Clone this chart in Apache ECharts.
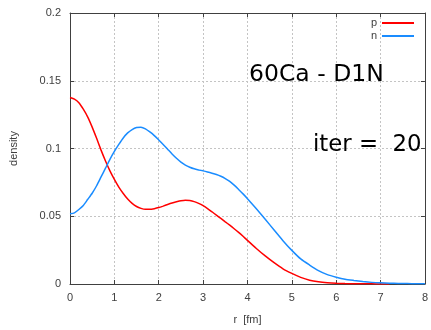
<!DOCTYPE html>
<html>
<head>
<meta charset="utf-8">
<script src="https://cdn.jsdelivr.net/npm/echarts@6/dist/echarts.min.js"></script>
<style>html,body{margin:0;padding:0;background:#fff}#c{width:431px;height:330px}</style>
</head>
<body>
<div id="c"></div>
<script>
var rValues = [0,0.1,0.2,0.3,0.4,0.5,0.6,0.7,0.8,0.9,1.0,1.1,1.2,1.3,1.4,1.5,1.6,1.7,1.8,1.9,2.0,2.1,2.2,2.3,2.4,2.5,2.6,2.7,2.8,2.9,3.0,3.1,3.2,3.3,3.4,3.5,3.6,3.7,3.8,3.9,4.0,4.2,4.4,4.6,4.8,5.0,5.2,5.4,5.6,5.8,6.0,6.2,6.4,6.6,6.8,7.0,7.2,7.4,7.6,7.8,8.0];
var pDensity = [0.1377,0.1365,0.1338,0.129,0.1232,0.1158,0.1075,0.0988,0.0908,0.0835,0.0772,0.0715,0.0668,0.0627,0.0595,0.0572,0.0558,0.0551,0.0551,0.0556,0.0564,0.0575,0.0587,0.0598,0.0607,0.0615,0.0619,0.0616,0.0608,0.0595,0.0578,0.0557,0.0533,0.0508,0.0484,0.0459,0.0434,0.0408,0.0381,0.0352,0.0322,0.0262,0.0207,0.0157,0.0112,0.0078,0.0049,0.0028,0.0016,0.0009,0.0005,0.0003,0.0002,0.0001,0.0001,0.0,0.0];
var nDensity = [0.0518,0.0525,0.055,0.058,0.0625,0.067,0.0725,0.079,0.0855,0.092,0.0978,0.103,0.1078,0.1115,0.114,0.1155,0.1157,0.1145,0.1122,0.1095,0.1063,0.103,0.0995,0.096,0.0928,0.09,0.0878,0.0862,0.085,0.0842,0.0835,0.0827,0.0818,0.0808,0.0795,0.0778,0.0757,0.073,0.0698,0.0665,0.063,0.0555,0.0478,0.0398,0.032,0.0248,0.0185,0.014,0.0099,0.0069,0.005,0.0035,0.0026,0.0018,0.0012,0.0009,0.0006,0.0004,0.0003,0.0002,0.0001];
var seriesNames = ['p','n'];
var xTicks = [0,1,2,3,4,5,6,7,8];
var yTicks = [0,0.05,0.1,0.15,0.2];
var titleText = '60Ca - D1N';
var iterText = 'iter =  20';

function pairs(xs, ys){ var out=[]; for(var i=0;i<ys.length;i++) out.push([xs[i], ys[i]]); return out; }

var chart = echarts.init(document.getElementById('c'), null, {renderer:'canvas'});
var axisCol = '#404040';
var labelFont = {color:'#404040', fontSize:11, fontFamily:'Liberation Sans'};
var gridLine = {show:true, lineStyle:{color:'#c4c4c4', type:[2,2], width:1}};
chart.setOption({
  animation:false,
  grid:{left:69, top:13, width:359, height:277},
  legend:{
    data:seriesNames, orient:'vertical', right:12, top:12, align:'right',
    icon:'rect', itemWidth:32, itemHeight:2, itemGap:1,
    textStyle:{color:'#404040', fontSize:11, lineHeight:12, fontFamily:'Liberation Sans', padding:[0,0,0,0]},
    selectedMode:false
  },
  xAxis:[{
    type:'value', min:xTicks[0], max:xTicks[xTicks.length-1], interval:1, position:'bottom',
    axisLine:{show:true, onZero:false, lineStyle:{color:axisCol, width:1}},
    axisTick:{show:true, inside:true, length:4, lineStyle:{color:axisCol}},
    axisLabel:{show:true, margin:8, ...labelFont},
    splitLine:gridLine,
    name:'r  [fm]', nameLocation:'middle', nameGap:30,
    nameTextStyle:{color:'#404040', fontSize:11, fontFamily:'Liberation Sans'}
  },{
    type:'value', min:0, max:8, interval:1, position:'top',
    axisLine:{show:true, onZero:false, lineStyle:{color:axisCol, width:1}},
    axisTick:{show:true, inside:true, length:4, lineStyle:{color:axisCol}},
    axisLabel:{show:false}, splitLine:{show:false}
  }],
  yAxis:[{
    type:'value', min:yTicks[0], max:yTicks[yTicks.length-1], interval:0.05, position:'left',
    axisLine:{show:true, onZero:false, lineStyle:{color:axisCol, width:1}},
    axisTick:{show:true, inside:true, length:4, lineStyle:{color:axisCol}},
    axisLabel:{show:true, margin:9, ...labelFont},
    splitLine:gridLine,
    name:'density', nameLocation:'middle', nameGap:51, nameRotate:90,
    nameTextStyle:{color:'#404040', fontSize:11, fontFamily:'Liberation Sans'}
  },{
    type:'value', min:0, max:0.2, interval:0.05, position:'right',
    axisLine:{show:true, onZero:false, lineStyle:{color:axisCol, width:1}},
    axisTick:{show:true, inside:true, length:4, lineStyle:{color:axisCol}},
    axisLabel:{show:false}, splitLine:{show:false}
  }],
  graphic:[
    {type:'text', left:249, top:63, z:10, style:{text:titleText, fontSize:23.5, fontFamily:'DejaVu Sans', fill:'#000'}},
    {type:'text', left:313, top:134, z:10, style:{text:iterText, fontSize:22.8, fontFamily:'DejaVu Sans', fill:'#000'}}
  ],
  series:[
    {name:seriesNames[0], type:'line', data:pairs(rValues,pDensity), showSymbol:false, symbol:'none', smooth:0.2, color:'#ff0000', lineStyle:{width:1.5, color:'#ff0000'}, z:3},
    {name:seriesNames[1], type:'line', data:pairs(rValues,nDensity), showSymbol:false, symbol:'none', smooth:0.2, color:'#1a8cff', lineStyle:{width:1.5, color:'#1a8cff'}, z:3}
  ]
});
</script>
</body>
</html>
